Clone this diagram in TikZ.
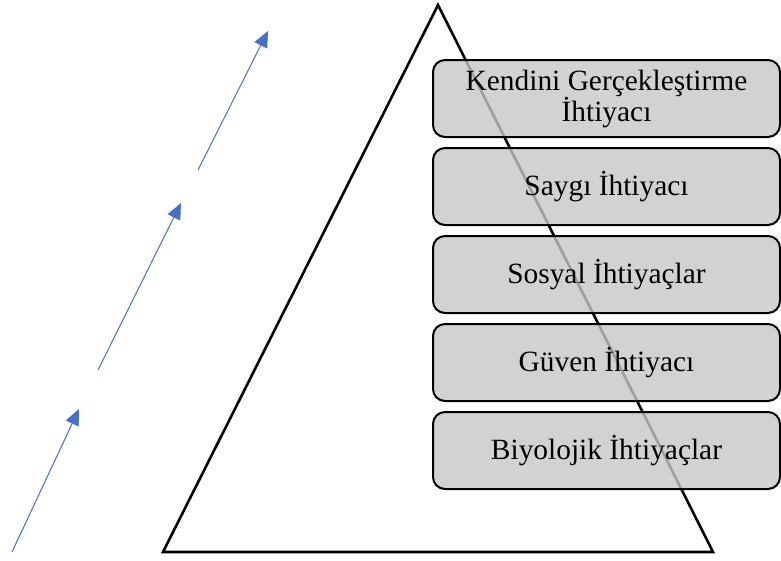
\documentclass[tikz,border=0pt]{standalone}
\usepackage{fontspec}
\setmainfont{Liberation Serif}
\usepackage{xcolor}
\usepackage{tikz}
\usetikzlibrary{arrows.meta,positioning}
\definecolor{arrowblue}{HTML}{4472C4}

\begin{document}
\begin{tikzpicture}[
    x=1pt, y=-1pt,
    level/.style={draw, line width=2pt, rounded corners=12pt, fill=black!22, fill opacity=0.8, text opacity=1,
        minimum width=347pt, minimum height=77pt, align=center, font=\fontsize{29.4}{31}\selectfont, inner sep=2pt},
    pyramid/.style={draw, line width=2.6pt, line join=miter},
    uparrow/.style={-{Triangle[length=16pt, width=14pt]}, draw=arrowblue, line width=1pt}
]
\useasboundingbox (0,0) rectangle (781,560);

% pyramid outline
\coordinate (top) at (438,5);
\coordinate (bl) at (163,552);
\coordinate (br) at (713,552);
\draw[pyramid] (top) -- (bl) -- (br) -- cycle;

% levels
\node[level] (self) at (606.5,98.5) {Kendini Gerçekleştirme\\İhtiyacı};
\node[level, below=9pt of self] (esteem) {Saygı İhtiyacı};
\node[level, below=9pt of esteem] (social) {Sosyal İhtiyaçlar};
\node[level, below=9pt of social] (safety) {Güven İhtiyacı};
\node[level, below=9pt of safety] (bio) {Biyolojik İhtiyaçlar};

% arrows on the left
\coordinate (a1s) at (12,552);
\coordinate (a1e) at (79,409);
\coordinate (a2s) at (98,370);
\coordinate (a2e) at (181,203);
\coordinate (a3s) at (198,170);
\coordinate (a3e) at (268,31);
\draw[uparrow] (a1s) -- (a1e);
\draw[uparrow] (a2s) -- (a2e);
\draw[uparrow] (a3s) -- (a3e);

\end{tikzpicture}
\end{document}
